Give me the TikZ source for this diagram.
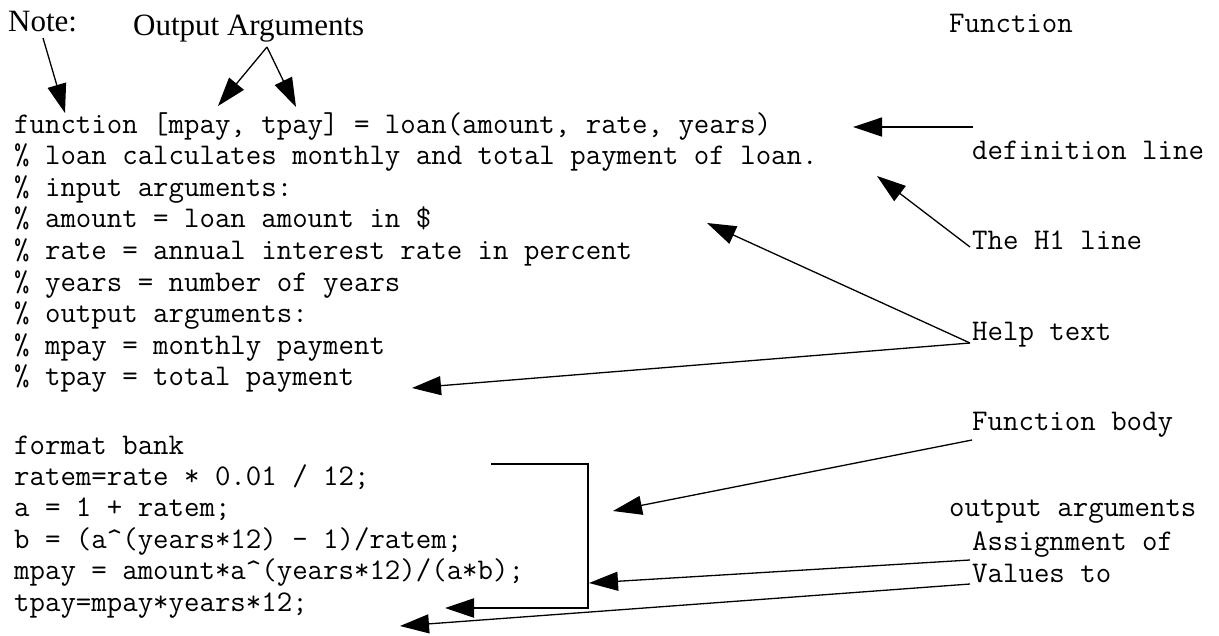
\documentclass[tikz,border=0pt]{standalone}
\usepackage{fontspec}
\setmainfont{Liberation Serif}
\usetikzlibrary{arrows.meta}
\begin{document}
\begin{tikzpicture}[x=1pt,y=-1pt,
  code/.style={font=\fontsize{30}{31.5}\selectfont\ttfamily, anchor=base west, inner sep=0pt},
  lbl/.style={font=\fontsize{30}{31.5}\selectfont\ttfamily, anchor=base west, inner sep=0pt},
  serif/.style={font=\fontsize{31}{36}\selectfont\rmfamily, anchor=base west, inner sep=0pt},
  arr/.style={line width=1.3pt, -{Triangle[length=29pt,width=19pt]}},
  brk/.style={line width=2.2pt, -{Triangle[length=29pt,width=19pt]}}]
\useasboundingbox (0,0) rectangle (1219,635);
% code lines
\node[code] (l1) at (14,133) {function [mpay, tpay] = loan(amount, rate, years)};
\node[code] (l2) at (14,164.6) {\% loan calculates monthly and total payment of loan.};
\node[code] (l3) at (14,196.2) {\% input arguments:};
\node[code] (l4) at (14,227.8) {\% amount = loan amount in \$};
\node[code] (l5) at (14,259.4) {\% rate = annual interest rate in percent};
\node[code] (l6) at (14,291) {\% years = number of years};
\node[code] (l7) at (14,322.6) {\% output arguments:};
\node[code] (l8) at (14,354.2) {\% mpay = monthly payment};
\node[code] (l9) at (14,385.8) {\% tpay = total payment};
\node[code] (b1) at (14,454) {format bank};
\node[code] (b2) at (14,485.4) {ratem=rate * 0.01 / 12;};
\node[code] (b3) at (14,516.8) {a = 1 + ratem;};
\node[code] (b4) at (14,548.2) {b = (a\textasciicircum(years*12) - 1)/ratem;};
\node[code] (b5) at (14,579.6) {mpay = amount*a\textasciicircum(years*12)/(a*b);};
\node[code] (b6) at (14,611) {tpay=mpay*years*12;};
% labels
\node[serif] (note) at (8,31) {Note:};
\node[serif] (outarg) at (133,35) {Output Arguments};
\node[lbl] (fn) at (949,32) {Function};
\node[lbl] (def) at (972,159) {definition line};
\node[lbl] (h1) at (972,249) {The H1 line};
\node[lbl] (help) at (972,340) {Help text};
\node[lbl] (body) at (972,430) {Function body};
\node[lbl] (oa) at (949,516) {output arguments};
\node[lbl] (asg) at (972,550) {Assignment of};
\node[lbl] (val) at (972,582) {Values to};
% connector points
\coordinate (noteS) at (43,38);
\coordinate (noteT) at (65,113);
\coordinate (oaApex) at (267,47);
\coordinate (oaT1) at (218,106);
\coordinate (oaT2) at (296,107);
\coordinate (defS) at (973,127);
\coordinate (defT) at (853,127);
\coordinate (h1S) at (970,247);
\coordinate (h1T) at (877,176);
\coordinate (helpS) at (970,343);
\coordinate (helpT1) at (707,223);
\coordinate (helpT2) at (412,388);
\coordinate (bodyS) at (972,440);
\coordinate (bodyT) at (613,511);
\coordinate (asgS) at (970,560);
\coordinate (asgT) at (589,583);
\coordinate (valS) at (970,584);
\coordinate (valT) at (400,626);
\coordinate (brA) at (491,464);
\coordinate (brB) at (588,464);
\coordinate (brC) at (588,608);
\coordinate (brT) at (445,608);
% connectors
\draw[arr] (noteS) -- (noteT);
\draw[arr] (oaApex) -- (oaT1);
\draw[arr] (oaApex) -- (oaT2);
\draw[arr] (defS) -- (defT);
\draw[arr] (h1S) -- (h1T);
\draw[arr] (helpS) -- (helpT1);
\draw[arr] (helpS) -- (helpT2);
\draw[arr] (bodyS) -- (bodyT);
\draw[arr] (asgS) -- (asgT);
\draw[arr] (valS) -- (valT);
\draw[brk] (brA) -- (brB) -- (brC) -- (brT);
\end{tikzpicture}
\end{document}
